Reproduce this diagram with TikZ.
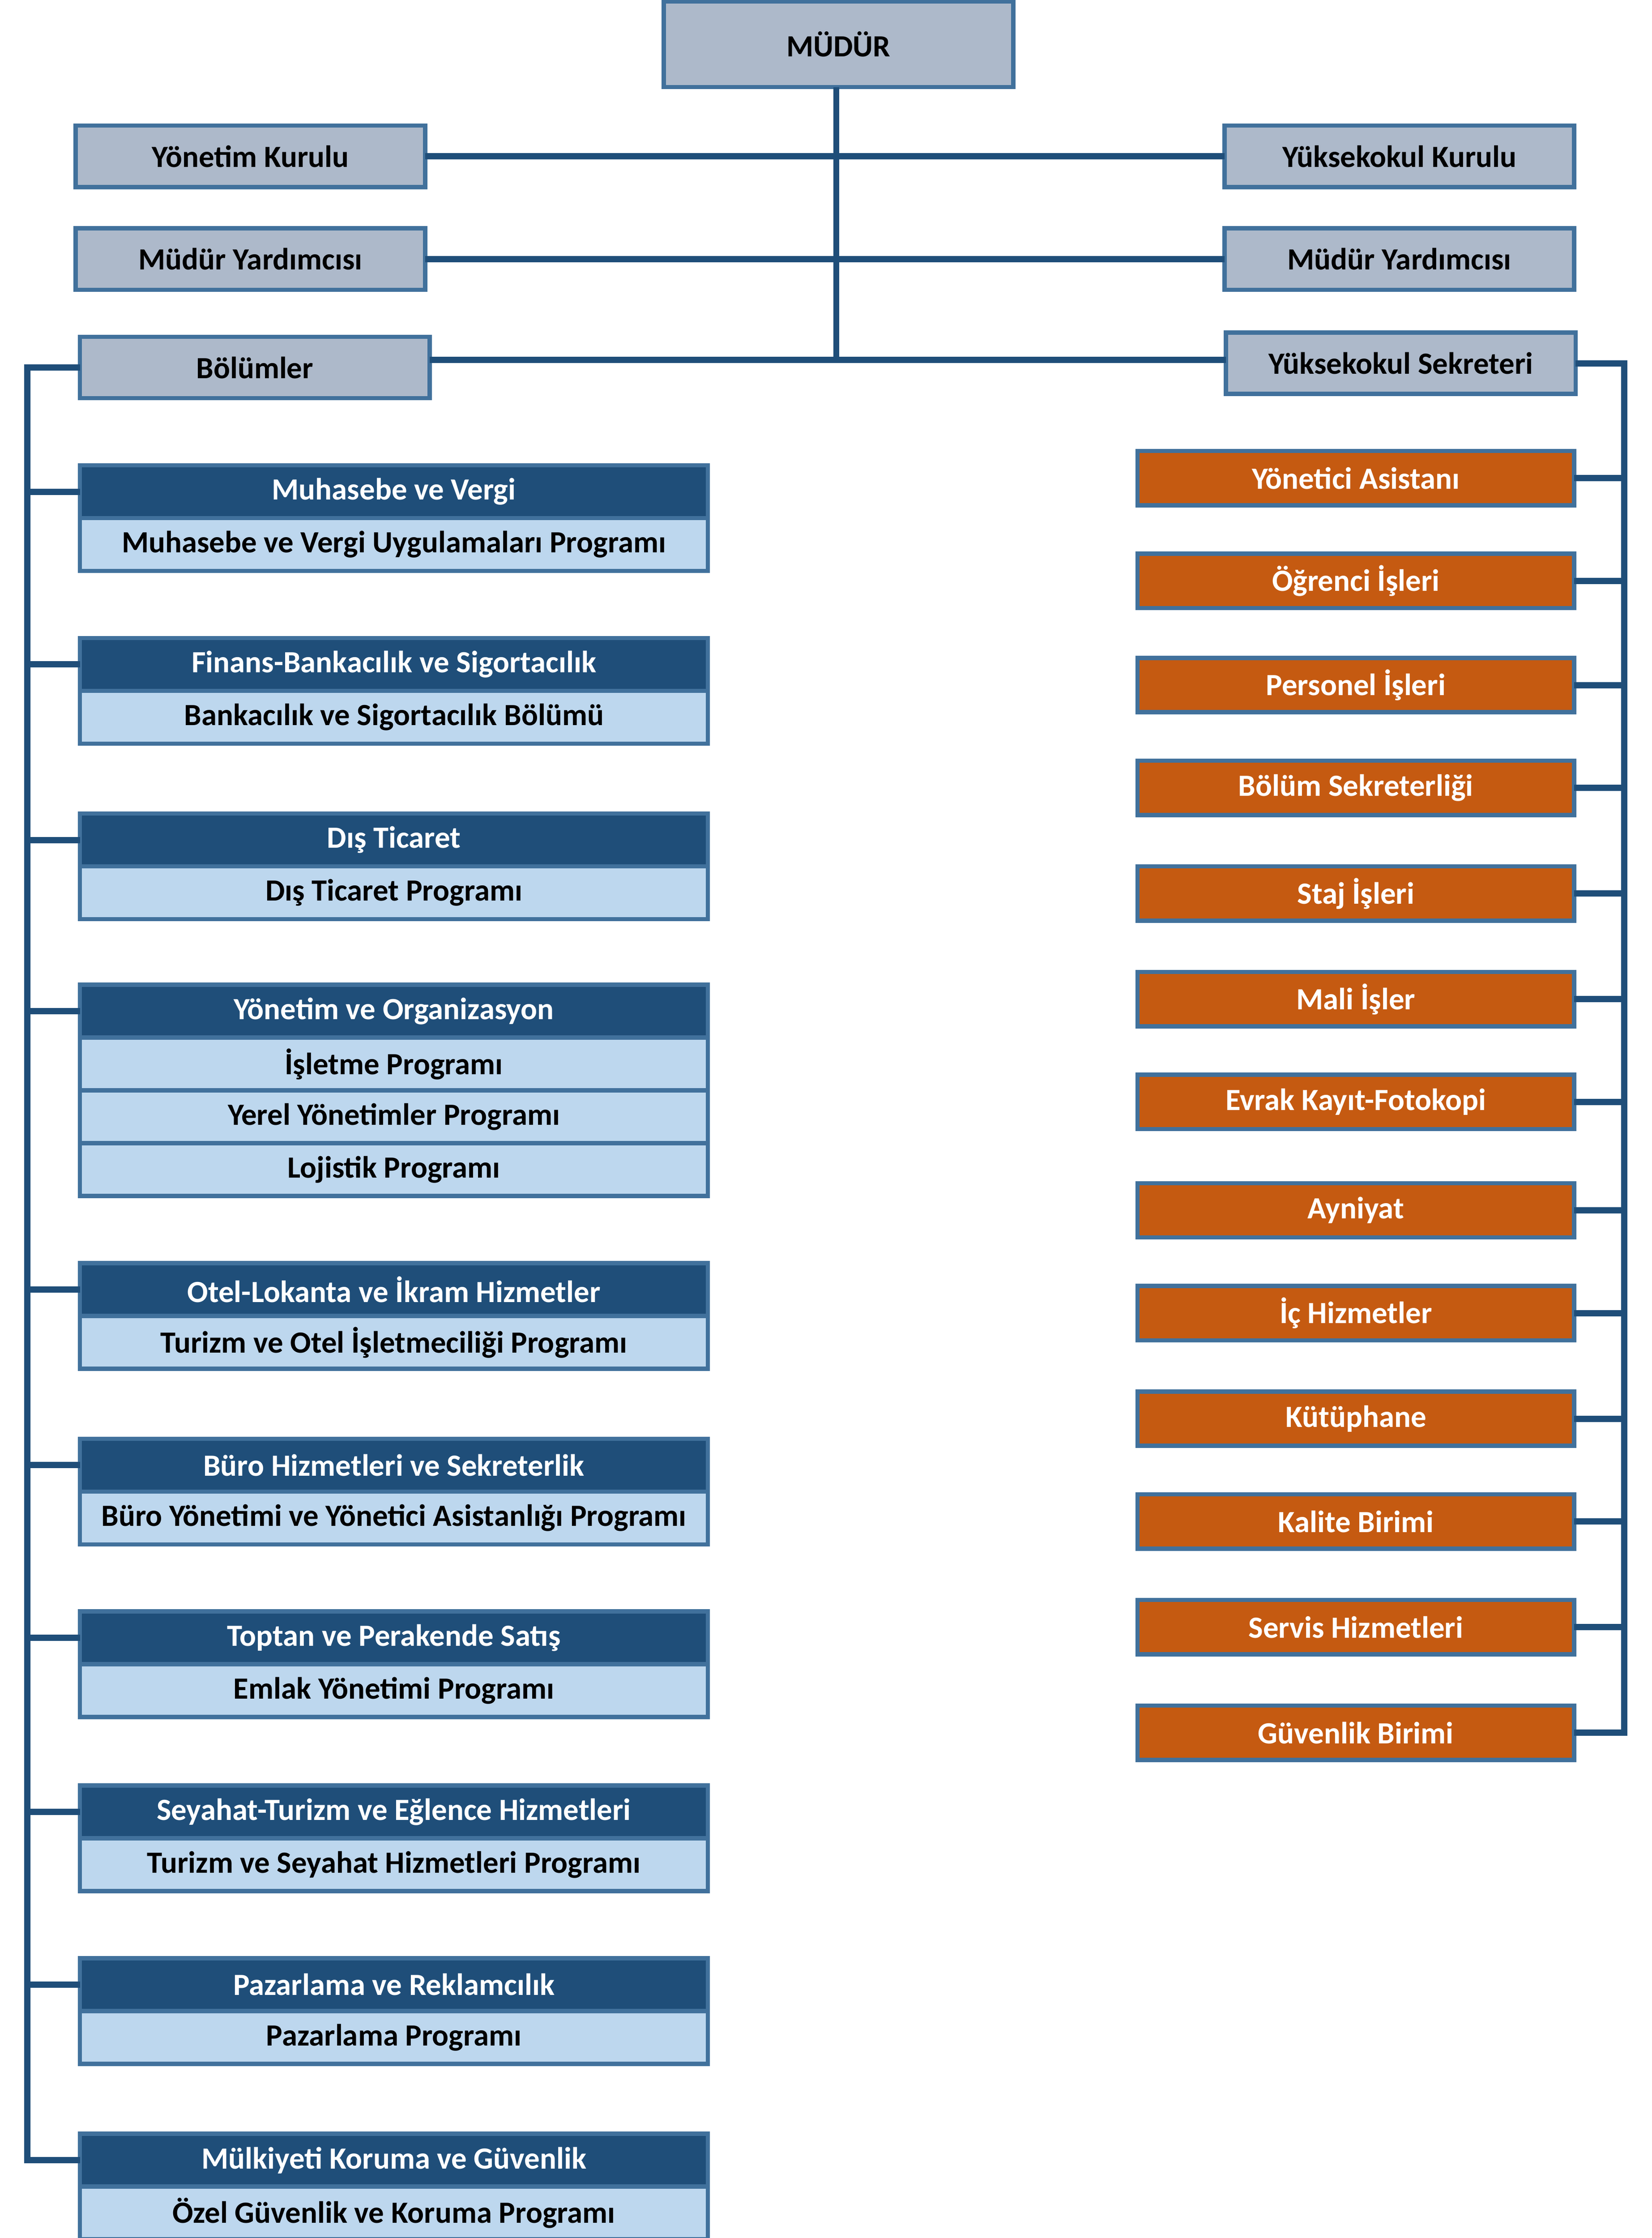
\documentclass[tikz,border=0pt]{standalone}
\usepackage{fontspec}
\setmainfont{Carlito}
\usepackage{tikz}
\usetikzlibrary{positioning}
\usepackage{xcolor}
\definecolor{boxline}{HTML}{41719C}
\definecolor{busline}{HTML}{1F4E79}
\definecolor{grayfill}{HTML}{ADB9CA}
\definecolor{headfill}{HTML}{1F4E79}
\definecolor{progfill}{HTML}{BDD7EE}
\definecolor{officefill}{HTML}{C55A11}
\tikzstyle{unit}=[draw=boxline, line width=1.5pt, inner sep=0pt, outer sep=0pt, anchor=north west, font=\bfseries\fontsize{10.8}{12}\selectfont]
\tikzstyle{graybox}=[unit, fill=grayfill, minimum width=122.5pt, minimum height=21.5pt]
\tikzstyle{headbox}=[unit, fill=headfill, text=white, minimum width=220pt, minimum height=18.5pt]
\tikzstyle{progbox}=[unit, fill=progfill, minimum width=220pt, minimum height=18.5pt]
\tikzstyle{officebox}=[unit, fill=officefill, text=white, minimum width=153pt, minimum height=19pt]
\tikzstyle{bus}=[draw=busline, line width=2.2pt]

\begin{document}
\begin{tikzpicture}[x=0.5pt,y=-0.5pt]
\useasboundingbox (0,0) rectangle (1157.4,1568);
\node[graybox, minimum height=30pt] (mudur) at (465,1) {MÜDÜR};
\node[graybox] (yk) at (53,88) {Yönetim Kurulu};
\node[graybox] (ykk) at (858,88) {Yüksekokul Kurulu};
\node[graybox] (myl) at (53,160) {Müdür Yardımcısı};
\node[graybox] (myr) at (858,160) {Müdür Yardımcısı};
\node[graybox] (bol) at (56,236) {Bölümler};
\node[graybox] (sek) at (859,233) {Yüksekokul Sekreteri};
\coordinate (hub) at (586,252);
\coordinate (lbus) at (19,257.5);
\coordinate (rbus) at (1138,254.5);
\draw[bus, line width=2pt] (mudur.south -| hub) -- (hub);
\draw[bus] (yk.east) -- (ykk.west);
\draw[bus] (myl.east) -- (myr.west);
\draw[bus] (bol.east |- hub) -- (sek.west |- hub);
% departments
\foreach \n/\y/\head/\prog in {1/326/Muhasebe ve Vergi/Muhasebe ve Vergi Uygulamaları Programı,
	2/447/Finans-Bankacılık ve Sigortacılık/Bankacılık ve Sigortacılık Bölümü,
	3/570/Dış Ticaret/Dış Ticaret Programı,
	5/885/Otel-Lokanta ve İkram Hizmetler/Turizm ve Otel İşletmeciliği Programı,
	6/1008/Büro Hizmetleri ve Sekreterlik/Büro Yönetimi ve Yönetici Asistanlığı Programı,
	7/1129/Toptan ve Perakende Satış/Emlak Yönetimi Programı,
	8/1251/Seyahat-Turizm ve Eğlence Hizmetleri/Turizm ve Seyahat Hizmetleri Programı,
	9/1372/Pazarlama ve Reklamcılık/Pazarlama Programı,
	10/1495/Mülkiyeti Koruma ve Güvenlik/Özel Güvenlik ve Koruma Programı} {
	\node[headbox] (d\n) at (56,\y) {\head};
	\node[progbox, below=0pt of d\n] (p\n) {\prog};
}
\node[headbox] (d4) at (56,690) {Yönetim ve Organizasyon};
\node[progbox, below=0pt of d4] (p4a) {İşletme Programı};
\node[progbox, below=0pt of p4a] (p4b) {Yerel Yönetimler Programı};
\node[progbox, below=0pt of p4b] (p4c) {Lojistik Programı};
\draw[bus] (bol.west) -- (lbus) -- (lbus |- d10.west) -- (d10.west);
\foreach \n in {1,...,9} {
	\draw[bus] (d\n.west) -- (d\n.west -| lbus);
}
% offices
\foreach \n/\y/\name in {1/316/Yönetici Asistanı, 2/388/Öğrenci İşleri, 3/461/Personel İşleri,
	4/533/Bölüm Sekreterliği, 5/607/Staj İşleri, 6/681/Mali İşler, 7/753/Evrak Kayıt-Fotokopi,
	8/829/Ayniyat, 9/901/İç Hizmetler, 10/975/Kütüphane, 11/1047/Kalite Birimi,
	12/1121/Servis Hizmetleri, 13/1195/Güvenlik Birimi} {
	\node[officebox] (o\n) at (797,\y) {\name};
}
\draw[bus] (sek.east |- rbus) -- (rbus) -- (rbus |- o13.east) -- (o13.east);
\foreach \n in {1,...,12} {
	\draw[bus] (o\n.east) -- (o\n.east -| rbus);
}
\end{tikzpicture}
\end{document}
